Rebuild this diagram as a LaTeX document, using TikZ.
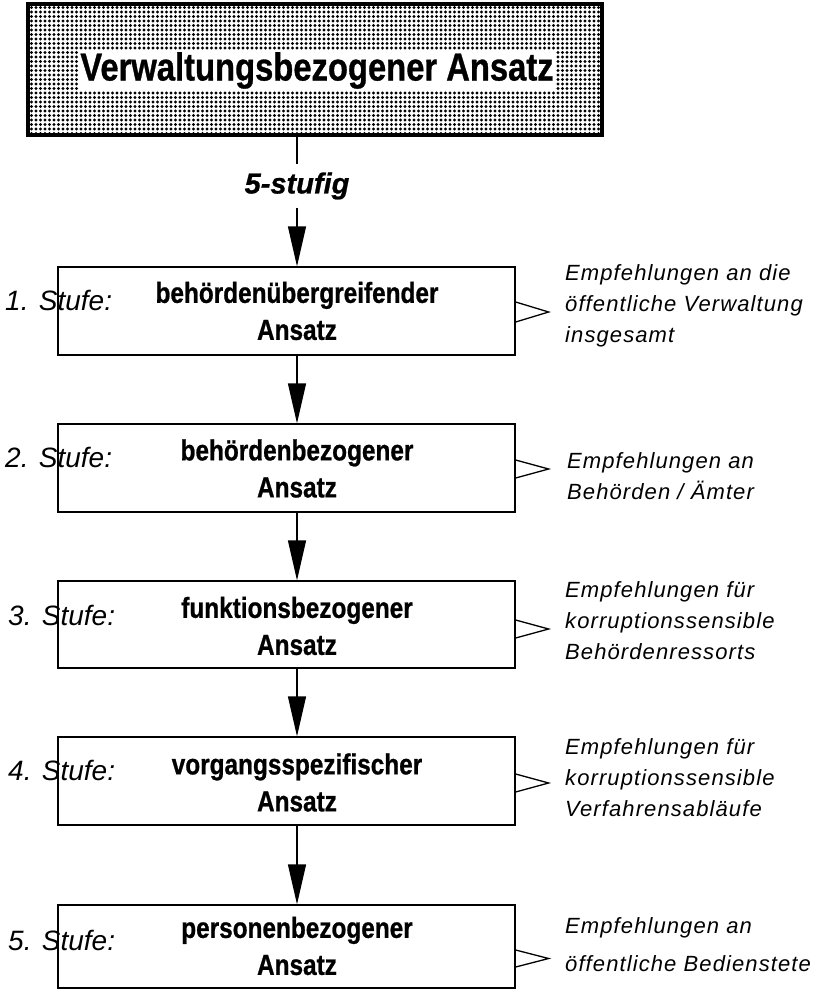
\documentclass[tikz,border=0pt]{standalone}
\usepackage{fontspec}
\setmainfont{Liberation Sans}
\newfontfamily\condfont[FakeStretch=0.84,FakeBold=0.8]{Liberation Sans}
\newfontfamily\heavyfont[FakeBold=0.8]{Liberation Sans}
\newfontfamily\spacedfont[LetterSpace=5]{Liberation Sans}
\usetikzlibrary{arrows.meta,patterns.meta,calc}
\begin{document}
\begin{tikzpicture}[x=1pt,y=-1pt,
  stepbox/.style={draw,line width=1.3pt,minimum width=457pt,inner sep=0pt},
  boxtext/.style={font=\condfont\bfseries\fontsize{29}{37}\selectfont,align=center,inner sep=0pt},
  stagelabel/.style={font=\itshape\fontsize{28}{28}\selectfont,anchor=west,inner sep=0pt},
  rec/.style={font=\spacedfont\itshape\fontsize{22}{31}\selectfont,align=left,anchor=west,inner sep=0pt},
  flow/.style={line width=1.3pt,-{Triangle[length=40pt,width=18pt]}},
  pointer/.style={line width=1.3pt,line join=miter}
]
\useasboundingbox (0,0) rectangle (815,993);

% title box
\node[draw,line width=4pt,pattern={Dots[radius=1.6pt,distance=4.5pt]},
      minimum width=574pt,minimum height=131pt,inner sep=0pt] (top) at (315,69.5) {};
\node[fill=white,inner xsep=1pt,inner ysep=3pt,text height=28pt,text depth=7pt,
      font=\condfont\bfseries\fontsize{39}{39}\selectfont] (title) at (317,70) {Verwaltungsbezogener Ansatz};
\coordinate (ax) at (297,0);

\node[font=\heavyfont\bfseries\itshape\fontsize{29}{29}\selectfont,inner xsep=0pt,inner ysep=8pt] (stufig) at (297,186) {5-stufig};

% stage boxes
\node[stepbox,minimum height=88pt] (b1) at (286.5,311) {};
\node[stepbox,minimum height=88pt] (b2) at (286.5,468) {};
\node[stepbox,minimum height=87pt] (b3) at (286.5,624.5) {};
\node[stepbox,minimum height=88pt] (b4) at (286.5,781) {};
\node[stepbox,minimum height=83pt] (b5) at (286.5,946.5) {};

\node[boxtext] (t1) at (297,311) {behördenübergreifender\\Ansatz};
\node[boxtext] (t2) at (297,468.5) {behördenbezogener\\Ansatz};
\node[boxtext] (t3) at (297,626) {funktionsbezogener\\Ansatz};
\node[boxtext] (t4) at (297,782.5) {vorgangsspezifischer\\Ansatz};
\node[boxtext] (t5) at (297,946) {personenbezogener\\Ansatz};

\node[stagelabel] (s1) at (5,300) {1. Stufe:};
\node[stagelabel] (s2) at (5,457) {2. Stufe:};
\node[stagelabel] (s3) at (8,615) {3. Stufe:};
\node[stagelabel] (s4) at (8,770) {4. Stufe:};
\node[stagelabel] (s5) at (8,940) {5. Stufe:};

\node[rec] (r1) at (565,306) {Empfehlungen an die\\öffentliche Verwaltung\\insgesamt};
\node[rec] (r2) at (567,476) {Empfehlungen an\\Behörden / Ämter};
\node[rec] (r3) at (565,621) {Empfehlungen für\\korruptionssensible\\Behördenressorts};
\node[rec] (r4) at (565,777.5) {Empfehlungen für\\korruptionssensible\\Verfahrensabläufe};
\node[rec] (r5) at (565,945) {Empfehlungen an\\[7pt]öffentliche Bedienstete};

% connectors
\draw[line width=1.3pt] (top.south -| ax) -- (stufig.north);
\draw[flow] (stufig.south) -- (b1.north -| ax);
\draw[flow] (b1.south -| ax) -- (b2.north -| ax);
\draw[flow] (b2.south -| ax) -- (b3.north -| ax);
\draw[flow] (b3.south -| ax) -- (b4.north -| ax);
\draw[flow] (b4.south -| ax) -- (b5.north -| ax);

% open pointers
\draw[pointer] ($(b1.east)+(0,-9)$) -- ++(33,10) -- ++(-33,10);
\draw[pointer] ($(b2.east)+(0,-8)$) -- ++(33,9) -- ++(-33,9);
\draw[pointer] ($(b3.east)+(0,-4.5)$) -- ++(33,9) -- ++(-33,9);
\draw[pointer] ($(b4.east)+(0,-7)$) -- ++(33,9) -- ++(-33,9);
\draw[pointer] ($(b5.east)+(0,3.5)$) -- ++(33,8.5) -- ++(-33,8.5);
\end{tikzpicture}
\end{document}
